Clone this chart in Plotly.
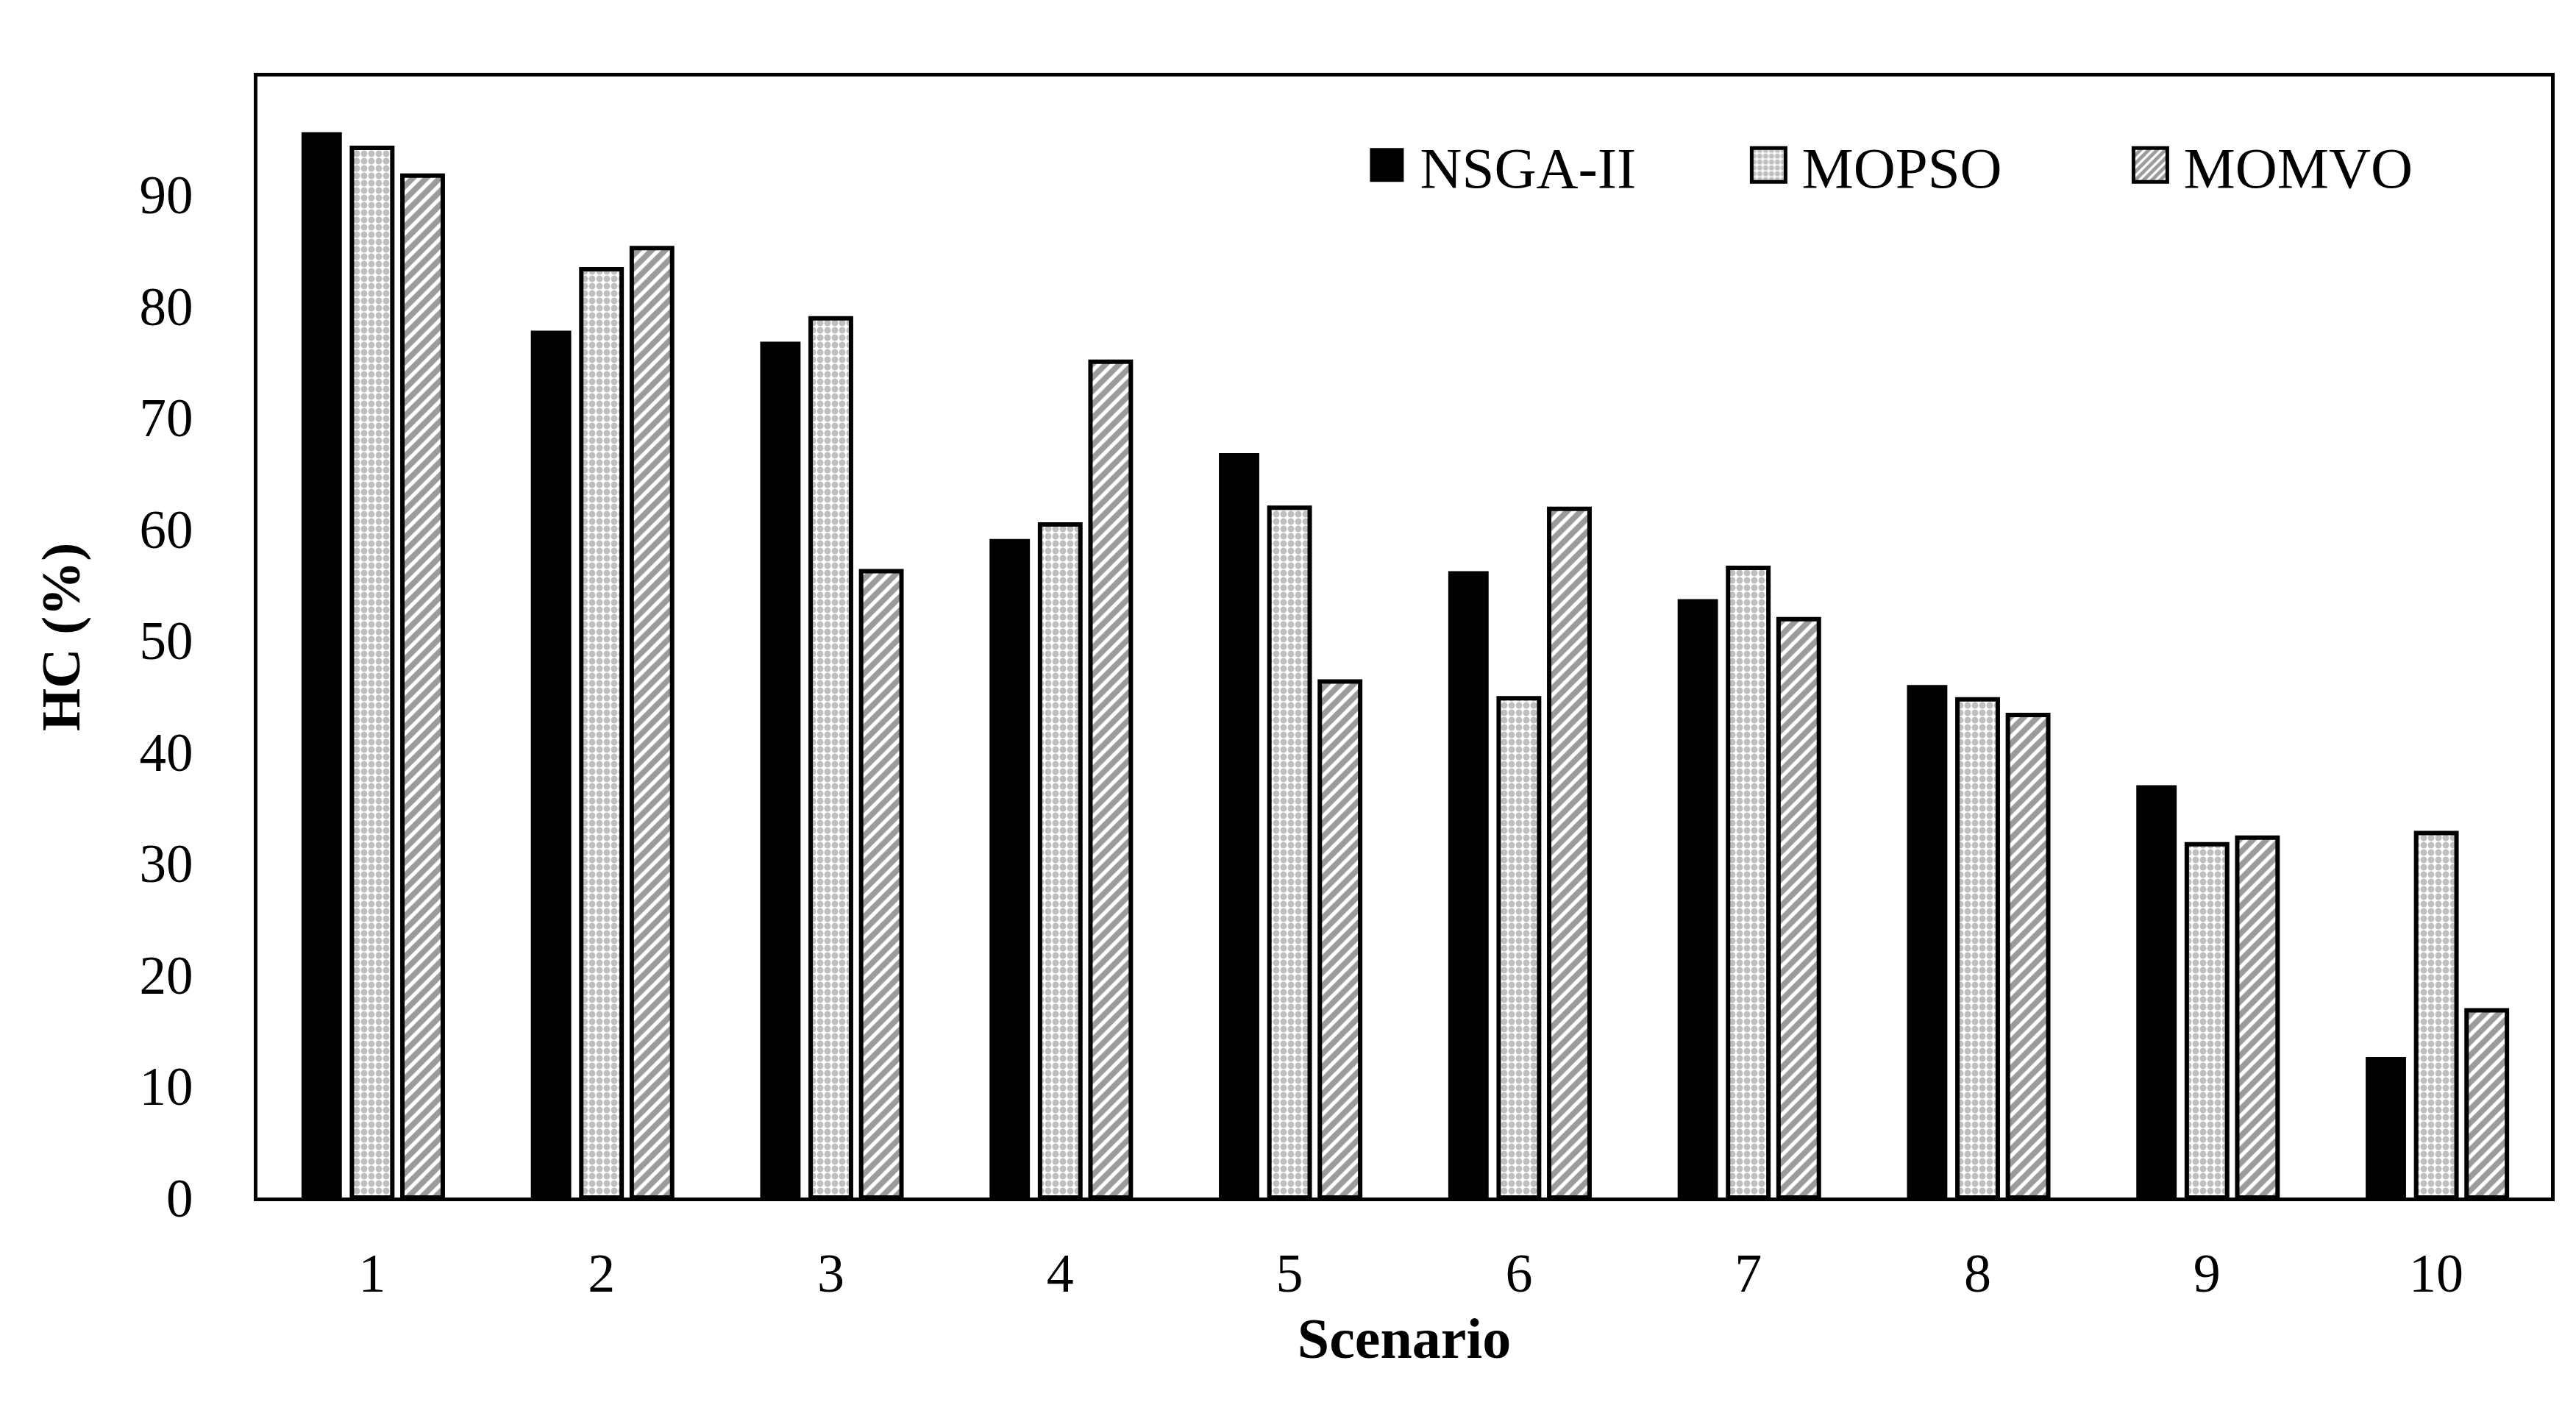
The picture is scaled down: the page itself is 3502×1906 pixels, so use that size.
import plotly.graph_objects as go

scenarios = ["1", "2", "3", "4", "5", "6", "7", "8", "9", "10"]
nsga2 = [95.6, 77.8, 76.8, 59.1, 66.8, 56.2, 53.7, 46.0, 37.0, 12.6]
mopso = [94.2, 83.3, 78.9, 60.4, 61.9, 44.8, 56.5, 44.7, 31.7, 32.7]
momvo = [91.7, 85.2, 56.2, 75.0, 46.3, 61.8, 51.9, 43.3, 32.3, 16.8]
series_names = ["NSGA-II", "MOPSO", "MOMVO"]
y_ticks = [0, 10, 20, 30, 40, 50, 60, 70, 80, 90]

FONT = "Liberation Serif"

fig = go.Figure()
fig.add_trace(go.Bar(
    x=scenarios, y=nsga2, name=series_names[0],
    marker=dict(color="#000000", line=dict(color="#000000", width=0)),
))
fig.add_trace(go.Bar(
    x=scenarios, y=mopso, name=series_names[1],
    marker=dict(color="#ffffff", line=dict(color="#000000", width=6),
                pattern=dict(shape=".", fgcolor="#808080", bgcolor="#ffffff",
                             size=10, solidity=0.62, fillmode="overlay")),
))
fig.add_trace(go.Bar(
    x=scenarios, y=momvo, name=series_names[2],
    marker=dict(color="#ffffff", line=dict(color="#000000", width=6),
                pattern=dict(shape="/", fgcolor="#383838", bgcolor="#ffffff",
                             size=13, solidity=0.6, fillmode="overlay")),
))

fig.update_layout(
    width=3502, height=1906,
    margin=dict(l=342, r=42, t=96, b=286),
    paper_bgcolor="#ffffff", plot_bgcolor="#ffffff",
    barmode="group", bargap=0.34, bargroupgap=0.2,
    font=dict(family=FONT, size=78, color="#000000"),
    showlegend=True,
    legend=dict(
        orientation="h", x=0.478, y=0.921, xanchor="left", yanchor="middle",
        font=dict(family=FONT, size=79, color="#000000"),
        itemwidth=80, entrywidth=424, entrywidthmode="pixels",
        bgcolor="rgba(0,0,0,0)", traceorder="normal",
    ),
    xaxis=dict(
        type="category", range=[-0.5, 9.5],
        showline=True, linecolor="#000000", linewidth=5, mirror=True,
        ticks="", showgrid=False, zeroline=False,
        tickfont=dict(family=FONT, size=74, color="#000000"),
        ticklabelstandoff=34,
        title=dict(text="<b>Scenario</b>", font=dict(family=FONT, size=78, color="#000000"),
                   standoff=22),
    ),
    yaxis=dict(
        range=[0, 100.6], tickvals=y_ticks,
        showline=True, linecolor="#000000", linewidth=5, mirror=True,
        ticks="", showgrid=False, zeroline=False,
        tickfont=dict(family=FONT, size=73, color="#000000"),
        ticklabelstandoff=68,
        title=dict(text="<b>HC (%)</b>", font=dict(family=FONT, size=75, color="#000000"),
                   standoff=58),
    ),
)

post = """
var gd = document.getElementById('{plot_id}');
gd.querySelectorAll('.legend .legendpoints path').forEach(function(p){
  p.setAttribute('d','M23,23H-23V-23H23Z');
});
"""
fig.write_html("out.html", post_script=post)
